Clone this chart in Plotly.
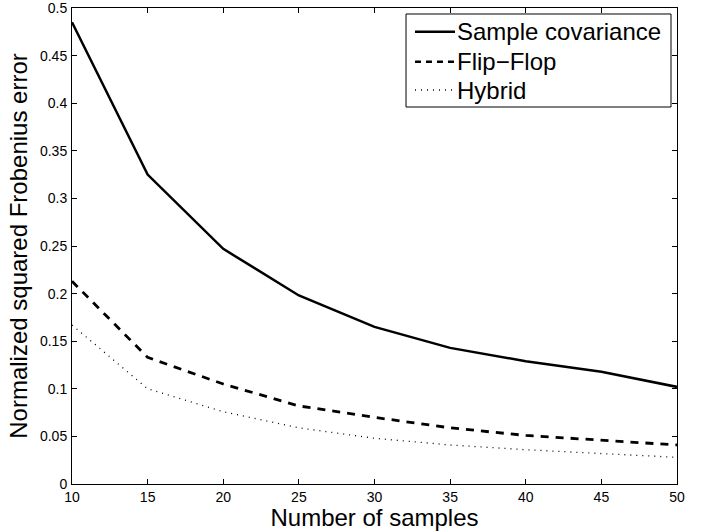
import plotly.graph_objects as go

samples = [10, 15, 20, 25, 30, 35, 40, 45, 50]
sample_cov = [0.485, 0.325, 0.247, 0.198, 0.165, 0.143, 0.129, 0.118, 0.102]
flip_flop = [0.213, 0.133, 0.105, 0.082, 0.070, 0.059, 0.051, 0.046, 0.041]
hybrid = [0.167, 0.100, 0.076, 0.059, 0.048, 0.041, 0.036, 0.032, 0.028]
series_names = ["Sample covariance", "Flip\u2212Flop", "Hybrid"]
y_ticks = [0, 0.05, 0.1, 0.15, 0.2, 0.25, 0.3, 0.35, 0.4, 0.45, 0.5]
y_tick_labels = ["0", "0.05", "0.1", "0.15", "0.2", "0.25", "0.3", "0.35", "0.4", "0.45", "0.5"]
x_ticks = [10, 15, 20, 25, 30, 35, 40, 45, 50]

FONT = "Liberation Sans, Arial, Helvetica, sans-serif"
styles = [
    dict(color="black", width=2.5, dash="solid"),
    dict(color="black", width=2.8, dash="8px,7px"),
    dict(color="black", width=1.3, dash="1px,5px"),
]

fig = go.Figure()
for name, vals, st in zip(series_names, [sample_cov, flip_flop, hybrid], styles):
    fig.add_trace(go.Scatter(x=samples, y=vals, mode="lines", name=name, line=st, showlegend=False))

# MATLAB-style legend box drawn in paper coordinates
leg_x0, leg_x1, leg_y0, leg_y1 = 0.5521, 0.9901, 0.792, 0.9874
row_y = [0.9502, 0.8872, 0.8277]
line_x0, line_x1, text_x = 0.5669, 0.6331, 0.6364
legend_dash = ["solid", "6px,5px", "1px,5px"]
legend_width = [2.5, 2.5, 1.3]
fig.add_shape(type="rect", xref="paper", yref="paper", x0=leg_x0, x1=leg_x1, y0=leg_y0, y1=leg_y1,
              line=dict(color="black", width=1), fillcolor="white", layer="above")
for name, ry, dsh, w in zip(series_names, row_y, legend_dash, legend_width):
    fig.add_shape(type="line", xref="paper", yref="paper", x0=line_x0, x1=line_x1, y0=ry, y1=ry,
                  line=dict(color="black", width=w, dash=dsh), layer="above")
    fig.add_annotation(xref="paper", yref="paper", x=text_x, y=ry, text=name, showarrow=False,
                       xanchor="left", yanchor="middle", xshift=-2,
                       font=dict(family=FONT, size=24, color="black"))

axis_common = dict(showgrid=False, zeroline=False, showline=True, linecolor="black", linewidth=1,
                   mirror="ticks", ticks="inside", ticklen=5, tickcolor="black", automargin=False,
                   ticklabeloverflow="allow",
                   tickfont=dict(family=FONT, size=14, color="black"))

fig.update_layout(
    width=710, height=531,
    margin=dict(l=72, r=33, t=8, b=47),
    paper_bgcolor="white", plot_bgcolor="white",
    font=dict(family=FONT, color="black"),
    xaxis=dict(range=[10, 50], tickvals=x_ticks, ticklabelstandoff=0,
               title=dict(text="Number of samples", font=dict(family=FONT, size=24), standoff=3), **axis_common),
    yaxis=dict(range=[0, 0.5], tickvals=y_ticks, ticktext=y_tick_labels, ticklabelstandoff=1,
               title=dict(text="Normalized squared Frobenius error", font=dict(family=FONT, size=24), standoff=5),
               **axis_common),
    showlegend=False,
)

fig.write_html("out.html", config={"displayModeBar": False},
               post_script="document.body.style.margin='0';document.body.style.padding='0';")
